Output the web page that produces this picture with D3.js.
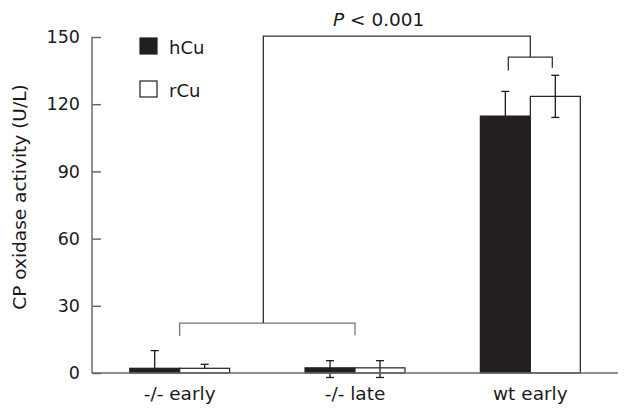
<!DOCTYPE html>
<html>
<head>
<meta charset="utf-8">
<title>CP oxidase activity</title>
<style>
    body { margin: 0; background: #fff; }
    text { font-family: 'DejaVu Sans', Verdana, sans-serif; fill: #1a1a1a; }
    .axis path, .axis line { stroke: #6a6a6a; stroke-width: 1.5px; }
    .axis text { font-size: 17.5px; fill: #1a1a1a; }
    .xaxis text { font-size: 18.5px; }
</style>
</head>
<body>
<script src="https://cdn.jsdelivr.net/npm/d3@7"></script>
<script>

var groups = ["-/- early", "-/- late", "wt early"];
var series = ["hCu", "rCu"];
var hCu = [2.1, 2.3, 114.7];
var rCu = [2.1, 2.3, 123.5];
var hCuErrUp = [7.9, 3.2, 11];
var rCuErrUp = [1.8, 3.2, 9.4];
var hCuErrLow = [0, 4.3, 0];
var rCuErrLow = [0, 4.3, 9.4];
var yTicks = [0, 30, 60, 90, 120, 150];
var pLabel = "P";
var pText = " < 0.001";

var width = 630, height = 419;

var svg = d3.select("body").append("svg")
    .attr("width", width)
    .attr("height", height);

var y = d3.scaleLinear().domain([0, 150]).range([373, 37]);
var x = d3.scaleBand().domain(groups).range([92, 618])
    .paddingInner(0.43).paddingOuter(0.215);
var xs = d3.scaleBand().domain(series).range([0, x.bandwidth()]);

var rows = [];
groups.forEach(function(g, i) {
    rows.push({g: g, s: "hCu", v: hCu[i], up: hCuErrUp[i], lo: hCuErrLow[i]});
    rows.push({g: g, s: "rCu", v: rCu[i], up: rCuErrUp[i], lo: rCuErrLow[i]});
});
var color = {hCu: "#231f20", rCu: "#fff"};

// bars
svg.append("g").selectAll("rect")
    .data(rows).enter().append("rect")
    .attr("x", function(d) { return x(d.g) + xs(d.s); })
    .attr("y", function(d) { return y(d.v); })
    .attr("width", xs.bandwidth())
    .attr("height", function(d) { return y(0) - y(d.v); })
    .attr("fill", function(d) { return color[d.s]; })
    .attr("stroke", "#231f20")
    .attr("stroke-width", 1.2);

// error bars
var eb = svg.append("g").attr("stroke", "#1a1a1a").attr("stroke-width", 1.3);
rows.forEach(function(d) {
    var cx = x(d.g) + xs(d.s) + xs.bandwidth() / 2;
    var top = y(d.v + d.up), bot = y(d.v - d.lo);
    eb.append("line").attr("x1", cx).attr("x2", cx).attr("y1", top).attr("y2", bot);
    eb.append("line").attr("x1", cx - 4).attr("x2", cx + 4).attr("y1", top).attr("y2", top);
    if (d.lo > 0) {
        eb.append("line").attr("x1", cx - 4).attr("x2", cx + 4).attr("y1", bot).attr("y2", bot);
    }
});

// y axis
svg.append("g").attr("class", "axis")
    .attr("transform", "translate(92,0)")
    .call(d3.axisLeft(y).tickValues(yTicks).tickSizeInner(-9).tickSizeOuter(0).tickPadding(12))
    .call(function(g) { g.select(".domain").attr("d", "M0," + y(150) + "V" + y(0)); });

// x axis
svg.append("g").attr("class", "axis xaxis")
    .attr("transform", "translate(0," + y(0) + ")")
    .call(d3.axisBottom(x).tickSize(0).tickPadding(14))
    .call(function(g) { g.select(".domain").attr("d", "M92,0H618"); });

// y label
svg.append("text")
    .attr("transform", "translate(26," + 197 + ") rotate(-90)")
    .attr("text-anchor", "middle")
    .style("font-size", "18.5px")
    .text("CP oxidase activity (U/L)");

// legend
var lg = svg.append("g");
series.forEach(function(s, i) {
    lg.append("rect")
        .attr("x", 140).attr("y", 38 + i * 43)
        .attr("width", 17).attr("height", 16)
        .attr("fill", color[s])
        .attr("stroke", "#231f20").attr("stroke-width", 1.2);
    lg.append("text")
        .attr("x", 169).attr("y", 54 + i * 43)
        .style("font-size", "18px")
        .text(s);
});

// significance brackets
var cEarly = x(groups[0]) + x.bandwidth() / 2;
var cLate = x(groups[1]) + x.bandwidth() / 2;
var cWt = x(groups[2]) + x.bandwidth() / 2;
var wtH = x(groups[2]) + xs("hCu") + xs.bandwidth() / 2;
var wtR = x(groups[2]) + xs("rCu") + xs.bandwidth() / 2;
var mid = (cEarly + cLate) / 2 - 4;

svg.append("path")
    .attr("fill", "none").attr("stroke", "#777").attr("stroke-width", 1.3)
    .attr("d", "M" + cEarly + "," + y(16.5) + "V" + y(22.3) + "H" + cLate + "V" + y(16.9));

svg.append("path")
    .attr("fill", "none").attr("stroke", "#333").attr("stroke-width", 1.3)
    .attr("d", "M" + mid + "," + y(22.3) + "V" + y(150.4) + "H" + cWt + "V" + y(141));

svg.append("path")
    .attr("fill", "none").attr("stroke", "#333").attr("stroke-width", 1.3)
    .attr("d", "M" + (wtH + 3) + "," + y(135) + "V" + y(141) + "H" + (wtR - 3) + "V" + y(136.3));

var pt = svg.append("text")
    .attr("x", 333).attr("y", 26)
    .style("font-size", "18.5px");
pt.append("tspan").style("font-style", "italic").text(pLabel);
pt.append("tspan").text(pText);

</script>
</body>
</html>
